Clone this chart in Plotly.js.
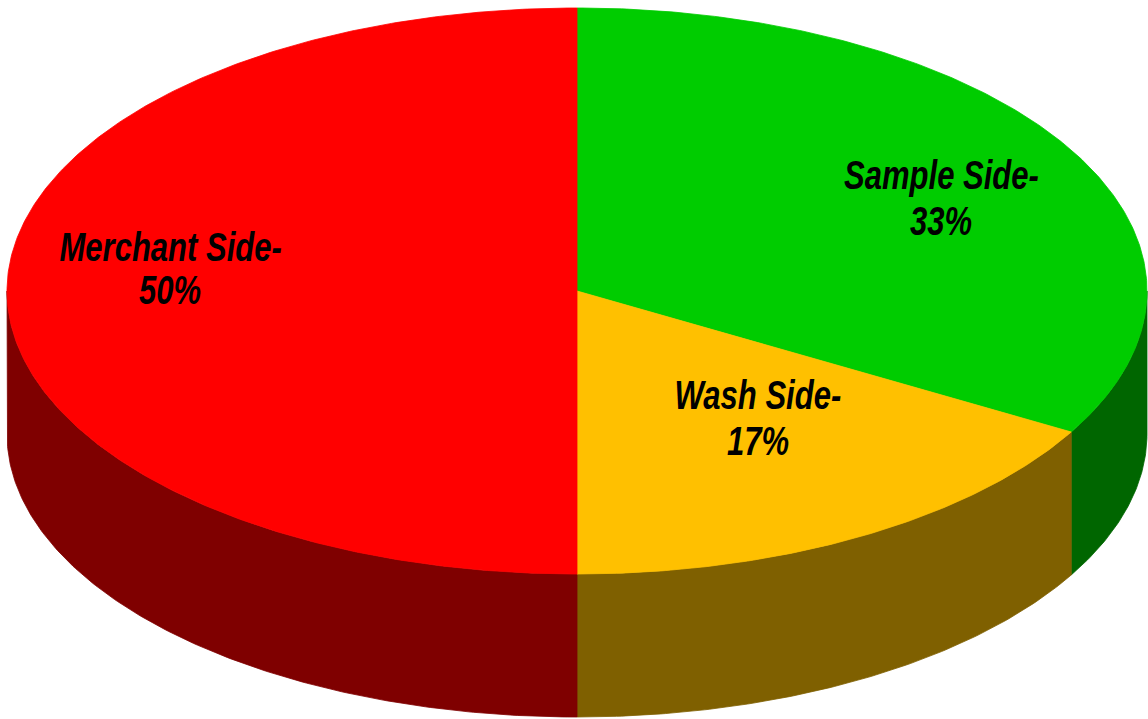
<!DOCTYPE html>
<html>
<head>
<meta charset="utf-8">
<script src="https://cdn.plot.ly/plotly-3.0.1.min.js"></script>
<style>html,body{margin:0;padding:0;background:#fff;}#chart{width:1148px;height:719px;}</style>
</head>
<body>
<div id="chart"></div>
<script>
// Data (clockwise from 12 o'clock)
const categories = ['Sample Side', 'Wash Side', 'Merchant Side'];
const shares = [33.3, 16.7, 50];
const topColors = ['#00CC00', '#FFC000', '#FF0000'];
const sideColors = ['#006600', '#7F6000', '#7F0000'];

// Geometry of the tilted pie (pixel-based plot space)
const W = 1148, H = 719;
const cx = 577, cy = 291, a = 570, b = 283, depth = 143;
const deg = Math.PI / 180;

function arc(t1, t2, dy) {
  const n = Math.max(2, Math.ceil(Math.abs(t2 - t1) / (0.5 * deg)));
  const xs = [], ys = [];
  for (let i = 0; i <= n; i++) {
    const t = t1 + (t2 - t1) * i / n;
    xs.push(cx + a * Math.cos(t));
    ys.push(cy + b * Math.sin(t) + dy);
  }
  return [xs, ys];
}

const total = shares.reduce((s, v) => s + v, 0);
const sideTraces = [], topTraces = [];
let start = -90 * deg;
shares.forEach((v, i) => {
  const end = start + v / total * 2 * Math.PI;
  const [ax, ay] = arc(start, end, 0);
  topTraces.push({
    type: 'scatter', mode: 'lines', fill: 'toself',
    x: [cx].concat(ax, [cx]), y: [cy].concat(ay, [cy]),
    fillcolor: topColors[i], line: {color: topColors[i], width: 0.8},
    hoverinfo: 'skip', showlegend: false, name: categories[i]
  });
  const s1 = Math.max(start, 0), s2 = Math.min(end, Math.PI);
  if (s2 > s1) {
    const [tx, ty] = arc(s1, s2, 0);
    const [bx, by] = arc(s2, s1, depth);
    sideTraces.push({
      type: 'scatter', mode: 'lines', fill: 'toself',
      x: tx.concat(bx, [tx[0]]), y: ty.concat(by, [ty[0]]),
      fillcolor: sideColors[i], line: {color: sideColors[i], width: 0.8},
      hoverinfo: 'skip', showlegend: false, name: categories[i] + ' side'
    });
  }
  start = end;
});

// Label placement (layout): [x centre, baseline of line 1, baseline of line 2]
const labelPos = [[941, 187, 233], [758, 407, 453], [170, 259, 302]];
const FONT = {family: '"Liberation Sans", Arial, sans-serif', size: 32, color: '#000'};
const annotations = [];
categories.forEach((c, i) => {
  const lines = [c + '-', Math.round(shares[i] / total * 100) + '%'];
  lines.forEach((t, k) => {
    annotations.push({
      x: labelPos[i][0], y: labelPos[i][k + 1] - 12, xref: 'x', yref: 'y',
      text: '<b><i>' + t + '</i></b>',
      showarrow: false, xanchor: 'center', yanchor: 'middle', align: 'center',
      font: FONT
    });
  });
});

const layout = {
  width: W, height: H, autosize: false,
  margin: {l: 0, r: 0, t: 0, b: 0, pad: 0},
  paper_bgcolor: '#fff', plot_bgcolor: '#fff',
  xaxis: {range: [0, W], visible: false, fixedrange: true},
  yaxis: {range: [H, 0], visible: false, fixedrange: true},
  annotations: annotations,
  showlegend: false
};

Plotly.newPlot('chart', sideTraces.concat(topTraces), layout, {staticPlot: true, displayModeBar: false})
  .then(gd => {
    // stretch label glyphs vertically / slightly condense, like the reference's narrow tall type
    const sx = 0.97, sy = 1.25;
    const svgRect = gd.querySelector('.main-svg').getBoundingClientRect();
    gd.querySelectorAll('g.annotation').forEach(g => {
      const t = g.querySelector('text');
      if (!t) return;
      const r = t.getBoundingClientRect();
      const ccx = r.left + r.width / 2 - svgRect.left;
      const ccy = r.top + r.height / 2 - svgRect.top;
      const prev = g.getAttribute('transform') || '';
      g.setAttribute('transform',
        `translate(${ccx},${ccy}) scale(${sx},${sy}) translate(${-ccx},${-ccy}) ${prev}`);
    });
  });
</script>
</body>
</html>
